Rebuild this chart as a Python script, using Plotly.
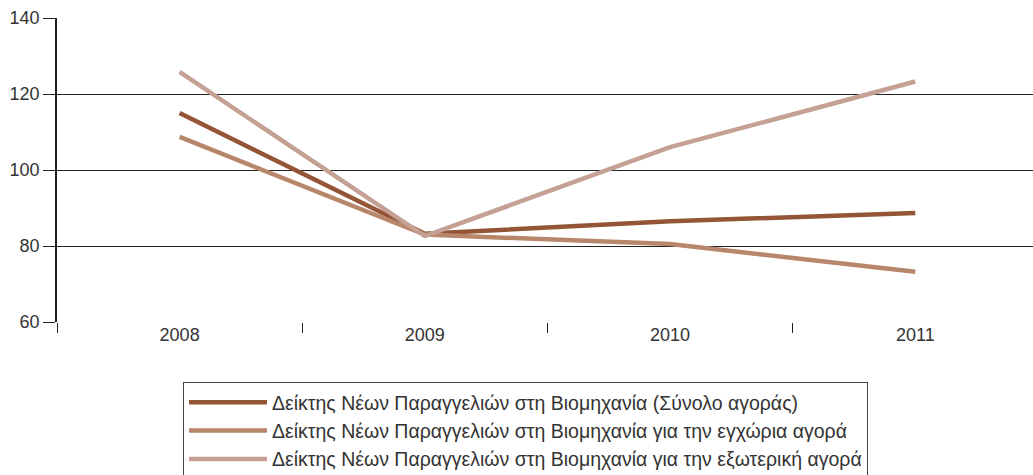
import plotly.graph_objects as go

years = ["2008", "2009", "2010", "2011"]
total = [115.0, 83.2, 86.5, 88.7]
domestic = [108.7, 83.0, 80.5, 73.2]
external = [125.8, 82.6, 106.0, 123.3]

names = [
    "Δείκτης Νέων Παραγγελιών στη Βιομηχανία (Σύνολο αγοράς)",
    "Δείκτης Νέων Παραγγελιών στη Βιομηχανία για την εγχώρια αγορά",
    "Δείκτης Νέων Παραγγελιών στη Βιομηχανία για την εξωτερική αγορά",
]
colors = ["#935535", "#B8866B", "#C4A194"]

fig = go.Figure()
for name, vals, col in zip(names, [total, domestic, external], colors):
    fig.add_trace(go.Scatter(x=years, y=vals, mode="lines", name=name,
                             line=dict(color=col, width=4.5)))

fig.update_layout(
    width=1033, height=475,
    margin=dict(l=57, r=0, t=18, b=153, autoexpand=False),
    plot_bgcolor="white", paper_bgcolor="white",
    font=dict(family="Liberation Sans, Arial, sans-serif", size=18, color="#333"),
    showlegend=True,
    legend=dict(
        xref="container", yref="container",
        x=183 / 1033, y=1 - 382 / 475, xanchor="left", yanchor="top",
        bordercolor="#444", borderwidth=1,
        font=dict(size=19.5, color="#333"),
        itemwidth=78,
        tracegroupgap=0,
    ),
    xaxis=dict(
        type="category", range=[-0.5, 3.48], tickson="boundaries",
        ticks="outside", ticklen=10, tickcolor="#222", showgrid=False,
        showline=False, zeroline=False,
    ),
    yaxis=dict(
        range=[60, 140], tickvals=[60, 80, 100, 120, 140],
        ticks="outside", ticklen=12, tickcolor="#222",
        showgrid=True, gridcolor="#222", gridwidth=1,
        showline=True, linecolor="#222", linewidth=1.5, zeroline=False,
    ),
)

fig.write_html(
    "out.html",
    config={"displayModeBar": False},
    post_script="document.body.style.margin='0';document.body.style.overflow='hidden';",
)
